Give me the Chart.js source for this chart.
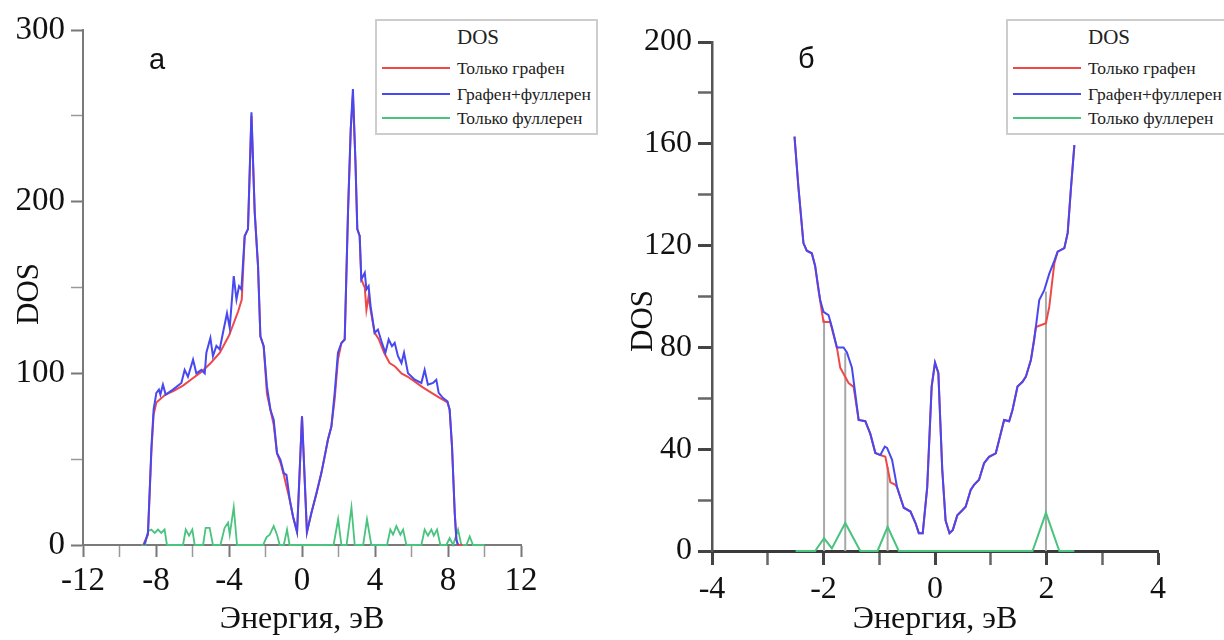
<!DOCTYPE html>
<html lang="ru">
<head>
    <meta charset="UTF-8">
    <title>DOS графена и фуллерена</title>
    <script src="https://cdn.jsdelivr.net/npm/chart.js"></script>
    <style>
        body { margin: 0; width: 1224px; height: 640px; overflow: hidden; background: #fff; position: relative; }
        canvas { position: absolute; top: 0; display: block; }
        #chartA { left: 0; }
        #chartB { left: 600px; }
        .panel { position: absolute; font-family: "Liberation Sans", Arial, sans-serif; font-size: 29px; color: #111; }
        .legend { position: absolute; background: #fff; border: 2px solid #cdcdcd; box-sizing: border-box; font-family: "Liberation Serif", serif; color: #222; }
        .legend .ttl { position: absolute; font-size: 21px; transform: translate(-50%, -50%); }
        .legend .sw { position: absolute; height: 2px; }
        .legend .lb { position: absolute; font-size: 17.5px; transform: translateY(-50%); white-space: nowrap; }
    </style>
</head>
<body>
    <canvas id="chartA" width="600" height="640"></canvas>
    <canvas id="chartB" width="624" height="640"></canvas>
    <div class="panel" style="left:149px; top:43px;">а</div>
    <div class="panel" style="left:798px; top:42px;">б</div>

    <script>
        // ---- names / colours ----
        const seriesNames = ['Только графен', 'Графен+фуллерен', 'Только фуллерен'];
        const RED = '#f04848', BLUE = '#4848f0', GREEN = '#48c47e', GREY = '#a8a8a8';
        const SERIF = "'Liberation Serif', 'DejaVu Serif', serif";

        // ---- panel a (wide energy range) ----
        const aBlueE = [-8.65, -8.44, -8.25, -8.13, -7.98, -7.84, -7.76, -7.62, -7.47, -7.07, -6.61, -6.43, -6.25, -5.97, -5.79, -5.51, -5.33, -5.24, -5.02, -4.88, -4.69, -4.51, -4.33, -4.11, -3.96, -3.74, -3.59, -3.45, -3.32, -3.14, -2.96, -2.77, -2.59, -2.41, -2.28, -2.10, -1.92, -1.73, -1.55, -1.37, -1.18, -1.0, -0.85, -0.67, -0.49, -0.27, 0, 0.27, 0.51, 0.79, 1.06, 1.24, 1.42, 1.61, 1.79, 1.97, 2.16, 2.34, 2.52, 2.67, 2.79, 2.93, 3.03, 3.16, 3.25, 3.44, 3.53, 3.65, 3.76, 3.98, 4.16, 4.38, 4.57, 4.75, 4.93, 5.08, 5.26, 5.45, 5.59, 5.81, 6.18, 6.54, 6.72, 6.9, 7.18, 7.36, 7.49, 7.73, 7.97, 8.09, 8.22, 8.37, 8.46, 8.55];
        const aBlue = [0, 7, 57, 79, 88.6, 90.5, 87.6, 93.4, 87.6, 90.5, 94.4, 102, 98, 108, 100, 102, 100, 112, 120.6, 110, 116, 114, 123.6, 135, 126.5, 156.6, 143, 150.8, 148.9, 180, 184, 252, 193.6, 162.5, 121.6, 115.8, 92.4, 78.8, 73, 53.5, 49.6, 41.9, 40.9, 26.3, 16.5, 7.5, 75, 7.5, 18.5, 30, 41.9, 51.5, 61.3, 69, 88.6, 112, 117.7, 119.7, 193.6, 242, 265.6, 222.8, 184, 180, 154.7, 158.6, 148.9, 150.8, 139, 123.6, 125.5, 117.7, 112, 119.7, 115.8, 117.7, 110, 106, 112, 100, 96.3, 94.4, 102, 93.4, 94.4, 96.3, 88.6, 85.6, 83.7, 78.8, 57.4, 18.5, 3, 0];

        const aRedE = [-8.7, -8.44, -8.25, -8.13, -7.98, -7.5, -7.0, -6.5, -6.0, -5.5, -5.0, -4.5, -4.0, -3.5, -3.3, -3.14, -2.96, -2.77, -2.59, -2.41, -2.28, -2.10, -1.92, -1.73, -1.55, -1.37, -1.18, -1.0, -0.85, -0.67, -0.49, -0.27, 0, 0.27, 0.51, 0.79, 1.06, 1.24, 1.42, 1.61, 1.79, 1.97, 2.16, 2.34, 2.52, 2.67, 2.79, 2.93, 3.03, 3.16, 3.25, 3.44, 3.53, 3.65, 3.76, 3.98, 4.2, 4.5, 4.8, 5.1, 5.45, 5.8, 6.2, 6.6, 7.1, 7.5, 7.97, 8.09, 8.22, 8.37, 8.46, 8.55, 8.8];
        const aRed = [0, 6, 55, 76, 83, 87.5, 90, 93, 97, 101, 106, 112, 122, 136, 143, 180, 184, 250, 193.6, 162.5, 121.6, 115.8, 88, 78.8, 70, 53.5, 48, 41, 34, 26.3, 16.5, 7.5, 75, 7.5, 18.5, 30, 41.9, 51.5, 61.3, 69, 85, 108, 117.7, 119.7, 193.6, 242, 262, 222.8, 184, 180, 154.7, 150, 137, 145, 137, 123.6, 120, 112, 106, 104, 100, 98, 95, 92, 88.6, 86, 83, 78.8, 57.4, 18.5, 3, 0, 0];

        const aGreenE = [-8.8, -8.6, -8.44, -8.26, -8.07, -7.89, -7.71, -7.53, -7.4, -6.52, -6.37, -6.19, -6.01, -5.88, -5.42, -5.28, -5.06, -4.88, -4.47, -4.24, -4.05, -3.96, -3.74, -3.56, -2.13, -1.95, -1.77, -1.55, -1.37, -1.22, -1.0, -0.82, -0.68, 1.73, 1.98, 2.16, 2.44, 2.71, 2.89, 3.35, 3.56, 3.80, 4.66, 4.84, 4.99, 5.17, 5.39, 5.54, 5.72, 6.54, 6.72, 6.90, 7.09, 7.22, 7.40, 7.58, 7.91, 8.09, 8.28, 8.55, 8.73, 9.01, 9.19, 9.37, 10.0];
        const aGreen = [0, 0, 8, 9, 7, 9, 7, 9, 0, 0, 9, 5.5, 9, 0, 0, 10, 10, 0, 0, 10, 13, 6, 22, 0, 0, 4.5, 6, 11, 6, 0, 0, 9, 0, 0, 15, 0, 0, 22, 0, 0, 15, 0, 0, 9, 6, 11, 6, 9, 0, 0, 9, 5.5, 9, 5.5, 9, 0, 0, 4, 0, 9, 0, 0, 5, 0, 0];

        // ---- panel b (zoom near Fermi level) ----
        const bBlueE = [-2.52, -2.45, -2.36, -2.30, -2.21, -2.15, -2.06, -2.0, -1.91, -1.85, -1.76, -1.64, -1.58, -1.49, -1.37, -1.25, -1.16, -1.07, -0.98, -0.9, -0.86, -0.77, -0.68, -0.56, -0.44, -0.35, -0.29, -0.22, -0.14, -0.06, 0.0, 0.06, 0.13, 0.19, 0.26, 0.32, 0.40, 0.49, 0.55, 0.64, 0.70, 0.79, 0.88, 0.97, 1.09, 1.15, 1.24, 1.33, 1.39, 1.48, 1.57, 1.63, 1.72, 1.78, 1.84, 1.87, 1.96, 2.05, 2.14, 2.2, 2.32, 2.38, 2.44, 2.5];
        const bBlue = [162.8, 143, 121, 118, 117, 112, 98.6, 94, 92.7, 88, 80, 80, 78, 72, 51.5, 51, 46, 38.5, 37.7, 41, 40.5, 35.8, 25, 17, 15.5, 11, 7, 7, 25, 64.6, 74, 70, 32, 12, 7, 8.3, 14, 16, 17.4, 24, 26, 28, 34.5, 37, 38.4, 43.6, 51.5, 51, 55.4, 64.6, 66.5, 68.5, 75, 83, 93.4, 98.6, 102.5, 109, 114, 117.6, 119, 125, 143, 159.5];

        const bRedE = [-2.52, -2.45, -2.36, -2.30, -2.21, -2.15, -2.1, -2.0, -1.88, -1.82, -1.76, -1.70, -1.55, -1.46, -1.37, -1.25, -1.16, -1.07, -0.98, -0.89, -0.8, -0.71, -0.68, -0.56, -0.44, -0.35, -0.29, -0.22, -0.14, -0.06, 0.0, 0.06, 0.13, 0.19, 0.26, 0.32, 0.40, 0.49, 0.55, 0.64, 0.70, 0.79, 0.88, 0.97, 1.09, 1.15, 1.24, 1.33, 1.39, 1.48, 1.57, 1.63, 1.72, 1.81, 1.99, 2.05, 2.14, 2.2, 2.32, 2.38, 2.44, 2.5];
        const bRed = [162.8, 143, 121, 118, 117, 112, 104, 90, 90, 85, 80, 72, 66, 64.5, 51.5, 51, 46, 38.5, 37.7, 37, 27, 26, 25, 17, 15.5, 11, 7, 7, 25, 64.6, 74, 70, 32, 12, 7, 8.3, 14, 16, 17.4, 24, 26, 28, 34.5, 37, 38.4, 43.6, 51.5, 51, 55.4, 64.6, 66.5, 68.5, 75, 88, 89.5, 96, 113, 117.6, 119, 125, 143, 159.5];

        const bGreenE = [-2.5, -2.15, -1.99, -1.85, -1.61, -1.34, -1.03, -0.85, -0.65, 1.75, 1.99, 2.23, 2.5];
        const bGreen = [0, 0, 5, 1, 11, 0, 0, 9.5, 0, 0, 15, 0, 0];

        // grey drop lines from the fullerene levels up to the curves
        const dropE = [-1.99, -1.61, -0.85, 1.99];
        const dropTop = [91, 78, 33, 102];

        const pts = (xs, ys) => xs.map((x, i) => ({ x: x, y: ys[i] }));

        function dropLines(xs, tops) {
            const out = [];
            xs.forEach((x, i) => {
                out.push({ x: x, y: 0 }, { x: x, y: tops[i] }, { x: x, y: null });
            });
            return out;
        }

        // draws the rotated y-axis caption at a fixed spot
        const yCaption = {
            id: 'yCaption',
            afterDraw(chart, args, opts) {
                const ctx = chart.ctx;
                ctx.save();
                ctx.translate(opts.x, opts.y);
                ctx.rotate(-Math.PI / 2);
                ctx.font = '31px ' + SERIF;
                ctx.fillStyle = '#111';
                ctx.textAlign = 'center';
                ctx.textBaseline = 'middle';
                ctx.fillText(opts.text, 0, 0);
                ctx.restore();
            }
        };

        function line(data, color, width) {
            return {
                data: data,
                borderColor: color,
                borderWidth: width,
                pointRadius: 0,
                tension: 0,
                fill: false,
                clip: false
            };
        }

        function makeChart(id, cfg) {
            const tickFont = { family: SERIF, size: cfg.fontSize };
            const isMajor = (c, every) => c.tick && Math.abs(c.tick.value % every) < 1e-9;
            new Chart(document.getElementById(id), {
                type: 'line',
                data: { datasets: cfg.datasets },
                options: {
                    responsive: false,
                    animation: false,
                    events: [],
                    layout: { padding: cfg.padding },
                    plugins: {
                        legend: { display: false },
                        tooltip: { enabled: false },
                        yCaption: cfg.caption
                    },
                    scales: {
                        x: {
                            type: 'linear',
                            min: cfg.xMin, max: cfg.xMax,
                            ticks: {
                                stepSize: cfg.xStep,
                                autoSkip: false,
                                maxRotation: 0,
                                padding: 5,
                                color: '#111',
                                font: tickFont,
                                callback: v => (v % cfg.xLabelEvery === 0 ? v : '')
                            },
                            grid: {
                                drawOnChartArea: false,
                                tickLength: cfg.tickLength,
                                tickColor: c => (isMajor(c, cfg.xLabelEvery) ? cfg.tickMajor : cfg.tickMinor),
                                tickWidth: c => (isMajor(c, cfg.xLabelEvery) ? cfg.tickW : cfg.tickW - 0.5)
                            },
                            border: { color: cfg.xAxisColor, width: cfg.xAxisWidth },
                            title: {
                                display: true,
                                text: 'Энергия, эВ',
                                color: '#111',
                                font: { family: SERIF, size: 32 },
                                padding: { top: 0, bottom: 1 }
                            },
                            afterFit: s => { s.height = cfg.xHeight; }
                        },
                        y: {
                            min: 0, max: cfg.yMax,
                            ticks: {
                                stepSize: cfg.yStep,
                                padding: 6,
                                color: '#111',
                                font: tickFont,
                                callback: v => (v % cfg.yLabelEvery === 0 ? v : '')
                            },
                            grid: {
                                drawOnChartArea: false,
                                tickLength: cfg.tickLength,
                                tickColor: c => (isMajor(c, cfg.yLabelEvery) ? cfg.tickMajor : cfg.tickMinor),
                                tickWidth: c => (isMajor(c, cfg.yLabelEvery) ? cfg.tickW : cfg.tickW - 0.5)
                            },
                            border: { color: cfg.yAxisColor, width: cfg.yAxisWidth },
                            afterFit: s => { s.width = cfg.yWidth; }
                        }
                    }
                },
                plugins: [yCaption]
            });
        }

        makeChart('chartA', {
            datasets: [
                line(pts(aBlueE, aBlue), BLUE, 2),
                line(pts(aRedE, aRed), RED, 2),
                line(pts(aGreenE, aGreen), GREEN, 1.8)
            ],
            padding: { left: 0, right: 79, top: 30, bottom: 0 },
            caption: { text: 'DOS', x: 30, y: 294 },
            fontSize: 33,
            xMin: -12, xMax: 12, xStep: 2, xLabelEvery: 4,
            yMax: 300, yStep: 50, yLabelEvery: 100,
            tickLength: 12, tickMajor: '#777', tickMinor: '#999', tickW: 2,
            xAxisColor: '#7a7a7a', xAxisWidth: 2,
            yAxisColor: '#7a7a7a', yAxisWidth: 2,
            xHeight: 95, yWidth: 83
        });

        makeChart('chartB', {
            datasets: [
                line(pts(bBlueE, bBlue), BLUE, 2),
                line(pts(bRedE, bRed), RED, 2),
                line(pts(bGreenE, bGreen), GREEN, 2),
                line(dropLines(dropE, dropTop), GREY, 2)
            ],
            padding: { left: 0, right: 66, top: 42, bottom: 0 },
            caption: { text: 'DOS', x: 44, y: 321 },
            fontSize: 32,
            xMin: -4, xMax: 4, xStep: 1, xLabelEvery: 2,
            yMax: 200, yStep: 20, yLabelEvery: 40,
            tickLength: 14, tickMajor: '#444', tickMinor: '#666', tickW: 3,
            xAxisColor: '#3a3a3a', xAxisWidth: 3,
            yAxisColor: '#555', yAxisWidth: 2.5,
            xHeight: 89, yWidth: 112
        });

        // ---- legends (html overlay boxes) ----
        function makeLegend(left, top, width) {
            const box = document.createElement('div');
            box.className = 'legend';
            box.style.left = left + 'px';
            box.style.top = top + 'px';
            box.style.width = width + 'px';
            box.style.height = '116px';
            const ttl = document.createElement('div');
            ttl.className = 'ttl';
            ttl.textContent = 'DOS';
            ttl.style.left = '101px';
            ttl.style.top = '16px';
            box.appendChild(ttl);
            const colors = [RED, BLUE, GREEN];
            const rowsY = [47, 73, 97];
            seriesNames.forEach((name, i) => {
                const sw = document.createElement('div');
                sw.className = 'sw';
                sw.style.left = '5px';
                sw.style.width = '68px';
                sw.style.top = (rowsY[i] - 1) + 'px';
                sw.style.background = colors[i];
                box.appendChild(sw);
                const lb = document.createElement('div');
                lb.className = 'lb';
                lb.textContent = name;
                lb.style.left = '80px';
                lb.style.top = rowsY[i] + 'px';
                box.appendChild(lb);
            });
            document.body.appendChild(box);
        }

        makeLegend(375, 19, 223);
        makeLegend(1006, 19, 232);
    </script>
</body>
</html>
